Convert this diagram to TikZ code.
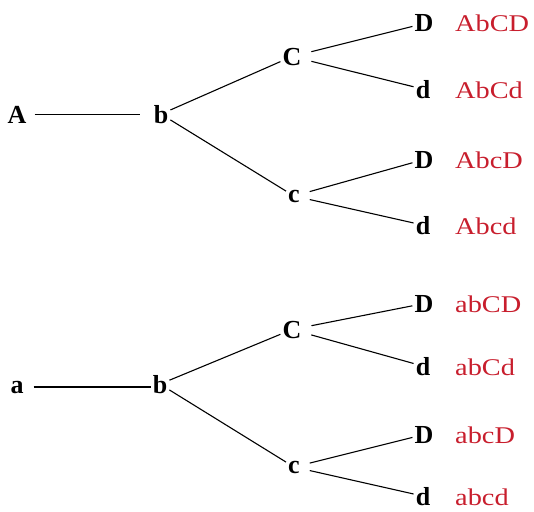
\documentclass[tikz,border=0pt]{standalone}
\usepackage{fontspec}
\setmainfont{Liberation Serif}
\newfontfamily\redfont[FakeStretch=1.18]{Liberation Serif}
\definecolor{lbl}{RGB}{200,30,45}
\begin{document}
\begin{tikzpicture}[x=1pt,y=-1pt,
  gene/.style={font=\fontsize{26}{28}\selectfont\bfseries, inner sep=2pt, anchor=base},
  combo/.style={font=\redfont\fontsize{24}{27}\selectfont, text=lbl, anchor=base west, inner sep=0pt},
  edge/.style={line width=1.1pt, black},
  far/.style={edge, shorten <=8pt}]
\useasboundingbox (0,0) rectangle (534,511);
% top tree
\node[gene] (A) at (17,123) {A};
\node[gene] (b1) at (161,123) {b};
\node[gene] (C1) at (292,65) {C};
\node[gene] (c1) at (294,202) {c};
\node[gene] (D1) at (424,32) {D};
\node[gene] (d1) at (423,98) {d};
\node[gene] (D2) at (424,168) {D};
\node[gene] (d2) at (423,234) {d};
\node[combo] (l1) at (455,32) {AbCD};
\node[combo] (l2) at (455,98) {AbCd};
\node[combo] (l3) at (455,168) {AbcD};
\node[combo] (l4) at (455,234) {Abcd};
\draw[edge, shorten <=6pt, shorten >=12pt] (A.east) -- (A.east -| b1.west);
\draw[edge] (b1) -- (C1);
\draw[edge] (b1) -- (c1);
\draw[far] (C1) -- (D1);
\draw[far] (C1) -- (d1);
\draw[far] (c1) -- (D2);
\draw[far] (c1) -- (d2);
% bottom tree
\node[gene] (a) at (17,393) {a};
\node[gene] (b2) at (160,393) {b};
\node[gene] (C2) at (292,338) {C};
\node[gene] (c2) at (294,473) {c};
\node[gene] (D3) at (424,312) {D};
\node[gene] (d3) at (423,375) {d};
\node[gene] (D4) at (424,443) {D};
\node[gene] (d4) at (423,505) {d};
\node[combo] (l5) at (455,312) {abCD};
\node[combo] (l6) at (455,375) {abCd};
\node[combo] (l7) at (455,443) {abcD};
\node[combo] (l8) at (455,505) {abcd};
\draw[edge, shorten <=8pt] (a.east) -- (a.east -| b2.west);
\draw[edge] (b2) -- (C2);
\draw[edge] (b2) -- (c2);
\draw[far] (C2) -- (D3);
\draw[far] (C2) -- (d3);
\draw[far] (c2) -- (D4);
\draw[far] (c2) -- (d4);
\end{tikzpicture}
\end{document}
